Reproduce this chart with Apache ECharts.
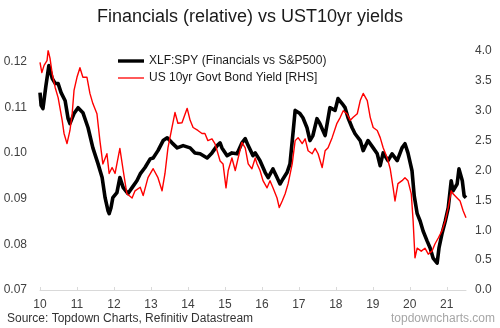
<!DOCTYPE html>
<html>
<head>
<meta charset="utf-8">
<script src="https://cdn.jsdelivr.net/npm/echarts@6/dist/echarts.min.js"></script>
<style>
  html, body { margin: 0; padding: 0; background: #ffffff; }
  #chart { width: 500px; height: 328px; }
</style>
</head>
<body>
<div id="chart"></div>
<script>
// XLF:SPY relative price (left axis), dates as decimal years
const xlfYears = [
  2010.00, 2010.03, 2010.08, 2010.16, 2010.24, 2010.33, 2010.41, 2010.49, 2010.57, 2010.68,
  2010.76, 2010.81, 2010.92, 2011.03, 2011.16, 2011.30, 2011.43, 2011.57, 2011.68, 2011.76,
  2011.84, 2011.87, 2011.92, 2011.97, 2012.08, 2012.16, 2012.25, 2012.38, 2012.49, 2012.62,
  2012.71, 2012.84, 2012.98, 2013.06, 2013.19, 2013.33, 2013.44, 2013.57, 2013.71, 2013.87,
  2014.06, 2014.19, 2014.33, 2014.52, 2014.65, 2014.79, 2014.87, 2014.92, 2015.06, 2015.19,
  2015.33, 2015.46, 2015.55, 2015.63, 2015.76, 2015.82, 2015.95, 2016.09, 2016.17, 2016.30,
  2016.41, 2016.49, 2016.57, 2016.68, 2016.76, 2016.84, 2016.90, 2017.03, 2017.11, 2017.22,
  2017.30, 2017.38, 2017.49, 2017.57, 2017.71, 2017.84, 2017.98, 2018.06, 2018.17, 2018.25,
  2018.33, 2018.44, 2018.52, 2018.66, 2018.74, 2018.87, 2019.01, 2019.12, 2019.20, 2019.28,
  2019.41, 2019.52, 2019.66, 2019.79, 2019.87, 2019.95, 2020.06, 2020.12, 2020.20, 2020.28,
  2020.36, 2020.47, 2020.55, 2020.63, 2020.74, 2020.79, 2020.87, 2020.96, 2021.04, 2021.12,
  2021.17, 2021.28, 2021.33, 2021.42, 2021.47, 2021.52
];
const xlfValues = [
  0.1132, 0.1104, 0.1097, 0.1147, 0.1191, 0.1163, 0.1152, 0.1152, 0.1132, 0.1114,
  0.1075, 0.1064, 0.1086, 0.1099, 0.1088, 0.1055, 0.1011, 0.0976, 0.0946, 0.0902,
  0.0873, 0.0867, 0.0880, 0.0902, 0.0913, 0.0946, 0.0924, 0.0911, 0.0924, 0.0939,
  0.0954, 0.0968, 0.0987, 0.0989, 0.1005, 0.1027, 0.1033, 0.1022, 0.1011, 0.1016,
  0.1011, 0.1000, 0.0998, 0.0989, 0.1000, 0.1016, 0.1022, 0.1011, 0.0994, 0.1000,
  0.0998, 0.1022, 0.1031, 0.1016, 0.0994, 0.1000, 0.0983, 0.0957, 0.0946, 0.0965,
  0.0946, 0.0932, 0.0943, 0.0957, 0.0976, 0.1042, 0.1093, 0.1086, 0.1077, 0.1055,
  0.1027, 0.1038, 0.1075, 0.1064, 0.1038, 0.1099, 0.1093, 0.1119, 0.1108, 0.1099,
  0.1077, 0.1055, 0.1042, 0.1027, 0.1005, 0.1027, 0.1011, 0.0998, 0.0972, 0.1000,
  0.0983, 0.0998, 0.0983, 0.1011, 0.1020, 0.1000, 0.0961, 0.0906, 0.0867, 0.0851,
  0.0829, 0.0807, 0.0792, 0.0770, 0.0759, 0.0792, 0.0823, 0.0851, 0.0880, 0.0939,
  0.0917, 0.0932, 0.0965, 0.0939, 0.0906, 0.0902
];

// US 10yr government bond yield, % (right axis)
const ustYears = [
  2010.00, 2010.05, 2010.11, 2010.19, 2010.22, 2010.27, 2010.33, 2010.41, 2010.49, 2010.60,
  2010.65, 2010.73, 2010.81, 2010.87, 2010.92, 2011.00, 2011.08, 2011.16, 2011.27, 2011.35,
  2011.43, 2011.54, 2011.62, 2011.70, 2011.81, 2011.87, 2011.95, 2012.03, 2012.16, 2012.25,
  2012.35, 2012.49, 2012.57, 2012.71, 2012.79, 2012.92, 2013.06, 2013.19, 2013.30, 2013.38,
  2013.46, 2013.57, 2013.65, 2013.73, 2013.84, 2013.98, 2014.06, 2014.14, 2014.27, 2014.38,
  2014.46, 2014.54, 2014.65, 2014.73, 2014.79, 2014.87, 2014.95, 2015.03, 2015.09, 2015.19,
  2015.28, 2015.36, 2015.46, 2015.55, 2015.63, 2015.73, 2015.82, 2015.87, 2015.95, 2016.03,
  2016.14, 2016.22, 2016.30, 2016.41, 2016.47, 2016.55, 2016.63, 2016.71, 2016.82, 2016.90,
  2016.98, 2017.09, 2017.17, 2017.25, 2017.36, 2017.44, 2017.52, 2017.63, 2017.71, 2017.79,
  2017.90, 2018.03, 2018.12, 2018.20, 2018.30, 2018.39, 2018.47, 2018.58, 2018.66, 2018.74,
  2018.85, 2018.93, 2019.01, 2019.12, 2019.20, 2019.28, 2019.39, 2019.47, 2019.55, 2019.60,
  2019.68, 2019.79, 2019.87, 2019.95, 2020.04, 2020.09, 2020.14, 2020.20, 2020.31, 2020.41,
  2020.50, 2020.60, 2020.68, 2020.77, 2020.87, 2020.96, 2021.04, 2021.12, 2021.17, 2021.28,
  2021.36, 2021.44, 2021.52
];
const ustValues = [
  3.81, 3.64, 3.76, 3.84, 4.01, 3.88, 3.62, 3.39, 3.22, 2.84,
  2.62, 2.45, 2.67, 2.95, 3.34, 3.56, 3.72, 3.56, 3.56, 3.29,
  3.12, 2.95, 2.50, 2.11, 2.28, 1.95, 2.05, 1.95, 2.37, 2.00,
  1.61, 1.54, 1.66, 1.72, 1.58, 1.88, 2.03, 1.88, 1.66, 1.95,
  2.38, 2.72, 2.97, 2.79, 2.80, 3.04, 2.84, 2.72, 2.67, 2.62,
  2.62, 2.50, 2.53, 2.45, 2.33, 2.16, 2.11, 1.71, 2.00, 2.21,
  2.00, 2.21, 2.47, 2.38, 2.11, 2.03, 2.21, 2.11, 2.00, 1.83,
  1.71, 1.83, 1.71, 1.54, 1.38, 1.49, 1.61, 1.78, 2.11, 2.50,
  2.55, 2.45, 2.53, 2.33, 2.28, 2.37, 2.28, 2.05, 2.33, 2.38,
  2.55, 2.79, 2.89, 3.00, 2.95, 2.84, 2.89, 2.95, 3.17, 3.29,
  3.17, 2.89, 2.72, 2.67, 2.55, 2.38, 2.21, 2.03, 1.71, 1.49,
  1.78, 1.83, 1.88, 1.83, 1.61, 1.16, 0.54, 0.70, 0.65, 0.70,
  0.60, 0.65, 0.77, 0.87, 0.99, 1.16, 1.38, 1.66, 1.61, 1.54,
  1.49, 1.33, 1.21
];

const seriesNames = ['XLF:SPY (Financials vs S&P500)', 'US 10yr Govt Bond Yield [RHS]'];
const titleText = 'Financials (relative) vs UST10yr yields';
const sourceText = 'Source: Topdown Charts, Refinitiv Datastream';
const siteText = 'topdowncharts.com';

const FONT = '"Liberation Sans", Arial, Helvetica, sans-serif';
const pair = (xs, ys) => xs.map((x, i) => [x, ys[i]]);

const chart = echarts.init(document.getElementById('chart'), null, { renderer: 'canvas' });
chart.setOption({
  animation: false,
  backgroundColor: '#ffffff',
  textStyle: { fontFamily: FONT },
  title: {
    text: titleText,
    left: 'center',
    top: 3,
    textStyle: { fontFamily: FONT, fontSize: 18, fontWeight: 'normal', color: '#1a1a1a' }
  },
  legend: {
    orient: 'vertical',
    left: 113,
    top: 50,
    itemWidth: 26,
    itemHeight: 14,
    itemGap: 5,
    textStyle: { fontFamily: FONT, fontSize: 12, color: '#1a1a1a' },
    // plain line swatches: thick black, thin red
    data: [
      { name: seriesNames[0], icon: 'path://M0,0H26V3.4H0Z' },
      { name: seriesNames[1], icon: 'path://M0,0H26V1.3H0Z' }
    ]
  },
  grid: { left: 40, right: 34, top: 51, bottom: 38 },
  xAxis: {
    type: 'value',
    min: 2010,
    max: 2021.52,
    interval: 1,
    axisLine: { show: true, lineStyle: { color: '#d9d9d9', width: 1 } },
    axisTick: { show: true, inside: true, length: 3, lineStyle: { color: '#d9d9d9' } },
    splitLine: { show: false },
    axisLabel: {
      showMaxLabel: false,
      margin: 9,
      fontFamily: FONT, fontSize: 12, color: '#404040',
      formatter: v => String(Math.round(v) - 2000)
    }
  },
  yAxis: [
    {
      type: 'value',
      min: 0.07,
      max: 0.1223,
      interval: 0.01,
      axisLine: { show: false },
      axisTick: { show: false },
      splitLine: { show: false },
      axisLabel: {
        showMaxLabel: false,
        margin: 13,
        fontFamily: FONT, fontSize: 12, color: '#404040',
        formatter: v => v.toFixed(2)
      }
    },
    {
      type: 'value',
      min: 0,
      max: 4,
      interval: 0.5,
      axisLine: { show: false },
      axisTick: { show: false },
      splitLine: { show: false },
      axisLabel: {
        margin: 9,
        fontFamily: FONT, fontSize: 12, color: '#404040',
        formatter: v => v.toFixed(1)
      }
    }
  ],
  series: [
    {
      name: seriesNames[0],
      type: 'line',
      yAxisIndex: 0,
      symbol: 'none',
      color: '#000000',
      lineStyle: { color: '#000000', width: 3.6, join: 'round' },
      data: pair(xlfYears, xlfValues)
    },
    {
      name: seriesNames[1],
      type: 'line',
      yAxisIndex: 1,
      symbol: 'none',
      color: '#ff0000',
      lineStyle: { color: '#ff0000', width: 1.4, join: 'round' },
      data: pair(ustYears, ustValues)
    }
  ],
  graphic: [
    {
      type: 'text', left: 7, top: 313,
      style: { text: sourceText, fontFamily: FONT, fontSize: 12, fill: '#333333' }
    },
    {
      type: 'text', right: 5, top: 313,
      style: { text: siteText, fontFamily: FONT, fontSize: 12, fill: '#a6a6a6' }
    }
  ]
});
</script>
</body>
</html>
